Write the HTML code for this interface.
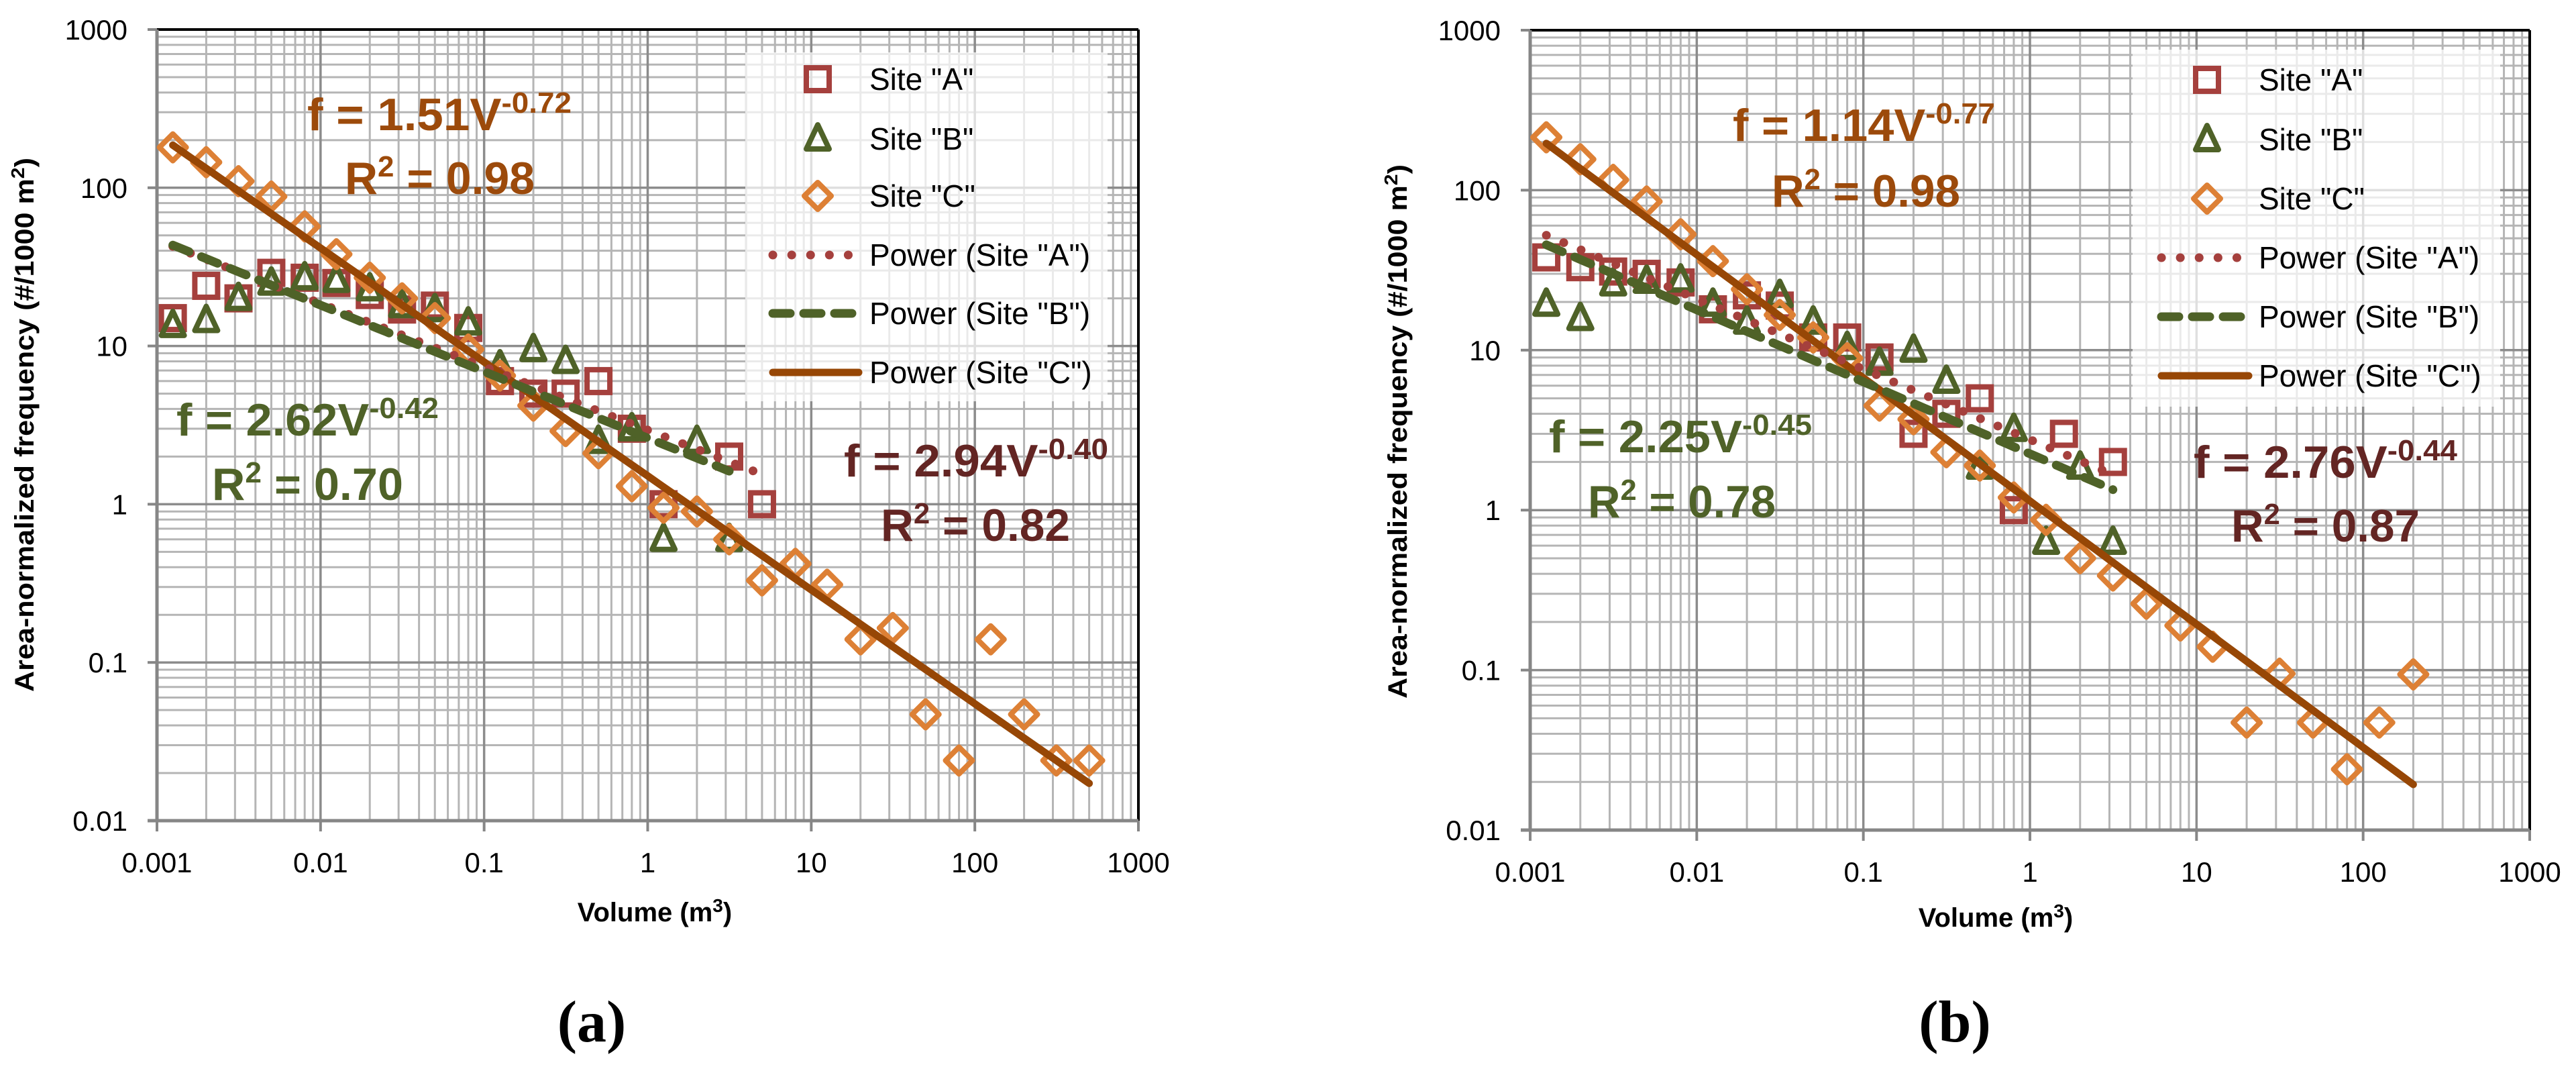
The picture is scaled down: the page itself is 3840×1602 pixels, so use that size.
<!DOCTYPE html>
<html><head><meta charset="utf-8"><style>
html,body{margin:0;padding:0;background:#fff;}
svg{display:block;}
</style></head><body>
<svg id="fig" width="3840" height="1602" viewBox="0 0 3840 1602" xmlns="http://www.w3.org/2000/svg" font-family="'Liberation Sans', sans-serif"></svg>
<script>
// ---- data (panel a) ----
const aAx = [0.00125,0.002,0.00315,0.005,0.008,0.0125,0.02,0.0315,0.05,0.08,0.125,0.2,0.315,0.5,0.8,1.25,3.15,5];
const aAy = [15,24,20,29,27,25,21,17,18,13,6,5,5,6,3,1,2,1];
const aBx = [0.00125,0.002,0.00315,0.005,0.008,0.0125,0.02,0.0315,0.05,0.08,0.125,0.2,0.315,0.5,0.8,1.25,2,3.15];
const aBy = [13.5,14.5,20,25,27,26,23,18,17,14,7.5,9.5,8,2.5,3,0.6,2.5,0.6];
const aCx = [0.00125,0.002,0.00315,0.005,0.008,0.0125,0.02,0.0315,0.05,0.08,0.125,0.2,0.315,0.5,0.8,1.25,2,3.15,5,8,12.5,20,31.5,50,80,125,200,315,500];
const aCy = [180,145,110,88,57,38,27,20,15,9.5,6.5,4.2,2.9,2.1,1.3,0.95,0.9,0.6,0.33,0.42,0.31,0.14,0.165,0.047,0.024,0.14,0.047,0.024,0.024];
const aFitCoef = [2.94,2.62,1.51];
const aFitExp = [-0.40,-0.42,-0.72];
const aFitRange = [[0.00125,5],[0.00125,3.15],[0.00125,500]];
// ---- data (panel b) ----
const bAx = [0.00125,0.002,0.00315,0.005,0.008,0.0125,0.02,0.0315,0.05,0.08,0.125,0.2,0.315,0.5,0.8,1.6,3.15];
const bAy = [38,33,31,30,26.5,18,22,19,12,12,9,3,4,5,1.0,3,2];
const bBx = [0.00125,0.002,0.00315,0.005,0.008,0.0125,0.02,0.0315,0.05,0.08,0.125,0.2,0.315,0.5,0.8,1.25,2,3.15];
const bBy = [19.4,15.8,26,27,27.5,19.4,15,22,15,10.4,8.3,10,6.4,1.86,3.2,0.63,1.86,0.63];
const bCx = [0.00125,0.002,0.00315,0.005,0.008,0.0125,0.02,0.0315,0.05,0.08,0.125,0.2,0.315,0.5,0.8,1.25,2,3.15,5,8,12.5,20,31.5,50,80,125,200];
const bCy = [214,156,116,85,53,36,24,16.6,12,8.9,4.5,3.7,2.3,1.9,1.2,0.87,0.5,0.39,0.26,0.19,0.14,0.047,0.095,0.047,0.024,0.047,0.094];
const bFitCoef = [2.76,2.25,1.14];
const bFitExp = [-0.44,-0.45,-0.77];
const bFitRange = [[0.00125,3.15],[0.00125,3.15],[0.00125,200]];
// ---- tick labels ----
const xTickLabels = ["0.001","0.01","0.1","1","10","100","1000"];
const yTickLabels = ["0.01","0.1","1","10","100","1000"];

const NS = "http://www.w3.org/2000/svg";
const svg = document.getElementById('fig');
function mk(tag, attrs, parent){
  const e = document.createElementNS(NS, tag);
  for (const k in attrs) e.setAttribute(k, attrs[k]);
  (parent||svg).appendChild(e);
  return e;
}
const colA = "#A5403D", colB = "#4F6228", colC = "#DD8035", colCfit = "#974706";

function panel(P){
  const g = mk('g', {});
  
  
  const X = v => P.x0 + (Math.log10(v) + 3) / 6 * (P.x1 - P.x0);
  const Y = v => P.y1 - (Math.log10(v) + 2) / 5 * (P.y1 - P.y0);
  const grid = mk('g', {}, g);
  
  
  for (let d = -3; d < 3; d++) for (let m = 2; m <= 9; m++) {
    const xx = X(m * Math.pow(10, d));
    mk('line', {x1:xx, x2:xx, y1:P.y0, y2:P.y1, stroke:'#b5b5b5', 'stroke-width':3}, grid);
  }
  for (let d = -2; d < 3; d++) for (let m = 2; m <= 9; m++) {
    const yy = Y(m * Math.pow(10, d));
    mk('line', {x1:P.x0, x2:P.x1, y1:yy, y2:yy, stroke:'#b5b5b5', 'stroke-width':3}, grid);
  }
  for (let d = -2; d <= 2; d++) { const xx = X(Math.pow(10,d)); mk('line',{x1:xx,x2:xx,y1:P.y0,y2:P.y1,stroke:'#8c8c8c','stroke-width':3.5},grid); }
  for (let d = -1; d <= 2; d++) { const yy = Y(Math.pow(10,d)); mk('line',{x1:P.x0,x2:P.x1,y1:yy,y2:yy,stroke:'#8c8c8c','stroke-width':3.5},grid); }
  mk('line',{x1:P.x0,x2:P.x1,y1:P.y0,y2:P.y0,stroke:'#000','stroke-width':4},g);
  mk('line',{x1:P.x1,x2:P.x1,y1:P.y0,y2:P.y1,stroke:'#000','stroke-width':4},g);
  const yax = mk('line',{x1:P.x0,x2:P.x0,y1:P.y0,y2:P.y1+2,stroke:'#868686','stroke-width':5},g);
   
  const xax = mk('line',{x1:P.x0-14,x2:P.x1,y1:P.y1,y2:P.y1,stroke:'#868686','stroke-width':5},g);
   
  for (let d = -2; d <= 3; d++) { const yy = Y(Math.pow(10,d)); mk('line',{x1:P.x0-14,x2:P.x0,y1:yy,y2:yy,stroke:'#868686','stroke-width':4},g); }
  for (let d = -3; d <= 3; d++) { const xx = X(Math.pow(10,d)); mk('line',{x1:xx,x2:xx,y1:P.y1,y2:P.y1+16,stroke:'#868686','stroke-width':4},g); }
  yTickLabels.forEach((t) => {
    const e = mk('text',{x:P.x0-44, y:Y(parseFloat(t))+15, 'text-anchor':'end','font-size':42,fill:'#000'},g);
    e.textContent = t;
     
  });
  xTickLabels.forEach((t) => {
    const e = mk('text',{x:X(parseFloat(t)), y:P.y1+77, 'text-anchor':'middle','font-size':42,fill:'#000'},g);
    e.textContent = t;
     
  });
  const yt = mk('text',{x:0,y:0,transform:`translate(${P.ytx},${P.yty}) rotate(-90)`,'text-anchor':'middle','font-size':40,'font-weight':'bold',textLength:796,lengthAdjust:'spacingAndGlyphs'},g);
  yt.innerHTML = 'Area-normalized frequency (#/1000 m<tspan dy="-14" font-size="28">2</tspan><tspan dy="14">)</tspan>';
   
  const xt = mk('text',{x:P.xtx,y:P.xty,'text-anchor':'middle','font-size':40,'font-weight':'bold'},g);
  xt.innerHTML = 'Volume (m<tspan dy="-14" font-size="28">3</tspan><tspan dy="14">)</tspan>';
   
  const pl = mk('text',{x:P.plx,y:1552,'text-anchor':'middle','font-size':88,'font-weight':'bold','font-family':"'Liberation Serif', serif"},g);
  pl.textContent = P.label;
   
  const styles = [
    {stroke:colA,'stroke-width':13,'stroke-dasharray':'0.1 28','stroke-linecap':'round',fill:'none'},
    {stroke:colB,'stroke-width':13,'stroke-dasharray':'26 20','stroke-linecap':'round',fill:'none'},
    {stroke:colCfit,'stroke-width':11,fill:'none','stroke-linecap':'round'}];
  const fitNames = ['power-fit-site-a','power-fit-site-b','power-fit-site-c'];
  const drawFit = (i) => {
    const [lo, hi] = P.fitRange[i];
    const pts = [];
    for (let k = 0; k <= 60; k++) {
      const v = Math.pow(10, Math.log10(lo) + k/60 * (Math.log10(hi) - Math.log10(lo)));
      pts.push(X(v).toFixed(1) + ',' + Y(P.fitCoef[i] * Math.pow(v, P.fitExp[i])).toFixed(1));
    }
    const e = mk('polyline', Object.assign({points: pts.join(' ')}, styles[i]), g);
    
    
  };
  const marker = (type, cx, cy, parent) => {
    let e;
    if (type === 0) e = mk('rect',{x:cx-17,y:cy-17,width:34,height:34,fill:'none',stroke:colA,'stroke-width':8},parent);
    else if (type === 1) e = mk('polygon',{points:`${cx},${cy-21} ${cx+17},${cy+15} ${cx-17},${cy+15}`,fill:'none',stroke:colB,'stroke-width':8,'stroke-linejoin':'round'},parent);
    else e = mk('polygon',{points:`${cx},${cy-20} ${cx+20},${cy} ${cx},${cy+20} ${cx-20},${cy}`,fill:'none',stroke:colC,'stroke-width':8,'stroke-linejoin':'round'},parent);
    return e;
  };
  const series = [[P.Ax,P.Ay],[P.Bx,P.By],[P.Cx,P.Cy]];
  const snames = ['site-a-point','site-b-point','site-c-point'];
  [0,1,2].forEach(i => {
    series[i][0].forEach((xv, j) => {
      const e = marker(i, X(xv), Y(series[i][1][j]), g);
      
      
    });
  });
  drawFit(2); drawFit(0); drawFit(1);
  P.ann.forEach(a => {
    const e = mk('text',{x:a[0],y:a[1],'font-size':68,'font-weight':'bold',fill:a[3],textLength:a[2]-a[0],lengthAdjust:'spacingAndGlyphs'},g);
    e.innerHTML = a[4];
    
    
  });
  const L = P.leg;
  const lg = mk('g',{},g);
   
  mk('rect',{x:L.x,y:L.y,width:L.w,height:L.h,fill:'#fff','fill-opacity':0.72},lg);
  const labels = ['Site "A"','Site "B"','Site "C"','Power (Site "A")','Power (Site "B")','Power (Site "C")'];
  const enames = ['legend-site-a','legend-site-b','legend-site-c','legend-power-a','legend-power-b','legend-power-c'];
  labels.forEach((t, i) => {
    const yy = L.ys[i];
    if (i < 3) marker(i, L.mx, yy, lg);
    else mk('line', Object.assign({x1:L.lx0,x2:L.lx1,y1:yy,y2:yy}, styles[i-3]), lg);
    const e = mk('text',{x:L.tx,y:yy+16,'font-size':46,fill:'#000'},lg);
    e.textContent = t;
    
    
  });
}

panel({name:'panel-a', label:'(a)', x0:234, x1:1697, y0:44, y1:1223,
  ytx:50, yty:633, xtx:976, xty:1373, plx:882,
  Ax:aAx, Ay:aAy, Bx:aBx, By:aBy, Cx:aCx, Cy:aCy,
  fitCoef:aFitCoef, fitExp:aFitExp, fitRange:aFitRange,
  ann:[[458,194,852,'#9C4A0B','f = 1.51V<tspan dy="-26" font-size="44">-0.72</tspan>','equation-site-c'],
       [514,289,797,'#9C4A0B','R<tspan dy="-26" font-size="44">2</tspan><tspan dy="26"> = 0.98</tspan>','r-squared-site-c'],
       [263,649,654,'#4F6228','f = 2.62V<tspan dy="-26" font-size="44">-0.42</tspan>','equation-site-b'],
       [316,745,601,'#4F6228','R<tspan dy="-26" font-size="44">2</tspan><tspan dy="26"> = 0.70</tspan>','r-squared-site-b'],
       [1258,710,1652,'#632523','f = 2.94V<tspan dy="-26" font-size="44">-0.40</tspan>','equation-site-a'],
       [1313,806,1595,'#632523','R<tspan dy="-26" font-size="44">2</tspan><tspan dy="26"> = 0.82</tspan>','r-squared-site-a']],
  leg:{x:1111,y:78,w:540,h:520,mx:1219,lx0:1152,lx1:1280,tx:1296,ys:[118,207,292,380,467,555]}
});
panel({name:'panel-b', label:'(b)', x0:2281, x1:3771, y0:45, y1:1237,
  ytx:2097, yty:643, xtx:2975, xty:1381, plx:2914,
  Ax:bAx, Ay:bAy, Bx:bBx, By:bBy, Cx:bCx, Cy:bCy,
  fitCoef:bFitCoef, fitExp:bFitExp, fitRange:bFitRange,
  ann:[[2583,210,2974,'#9C4A0B','f = 1.14V<tspan dy="-26" font-size="44">-0.77</tspan>','equation-site-c'],
       [2641,308,2922,'#9C4A0B','R<tspan dy="-26" font-size="44">2</tspan><tspan dy="26"> = 0.98</tspan>','r-squared-site-c'],
       [2309,674,2701,'#4F6228','f = 2.25V<tspan dy="-26" font-size="44">-0.45</tspan>','equation-site-b'],
       [2367,771,2647,'#4F6228','R<tspan dy="-26" font-size="44">2</tspan><tspan dy="26"> = 0.78</tspan>','r-squared-site-b'],
       [3270,712,3663,'#632523','f = 2.76V<tspan dy="-26" font-size="44">-0.44</tspan>','equation-site-a'],
       [3326,807,3607,'#632523','R<tspan dy="-26" font-size="44">2</tspan><tspan dy="26"> = 0.87</tspan>','r-squared-site-a']],
  leg:{x:3179,y:74,w:548,h:532,mx:3290,lx0:3222,lx1:3352,tx:3367,ys:[119,208,296,384,472,560]}
});
</script>
</body></html>
